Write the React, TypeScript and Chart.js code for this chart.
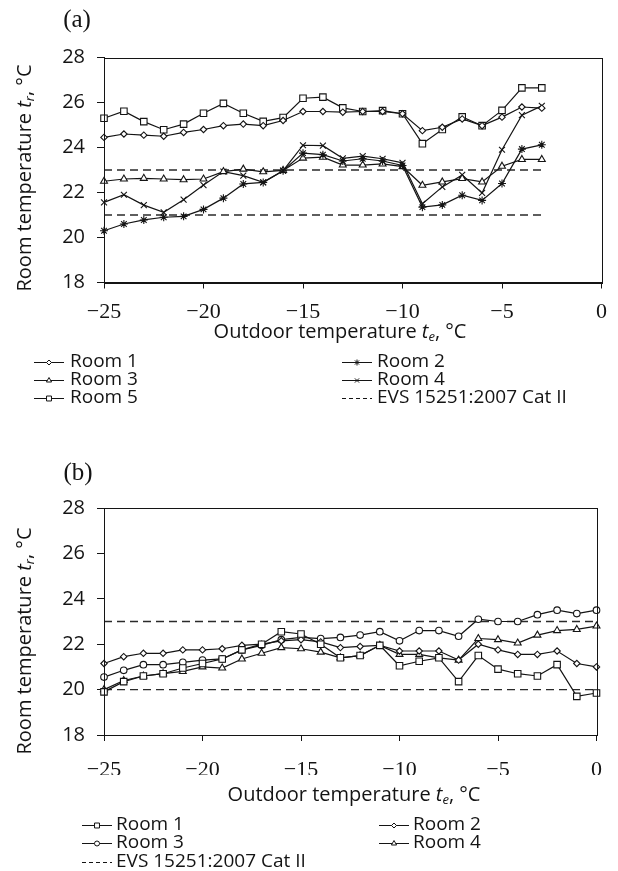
import React, { useEffect, useRef } from 'react';
import { Chart, registerables } from 'chart.js';
import { drawPoint } from 'chart.js/helpers';

Chart.register(...registerables);

// ---------- DATA ----------
const xA = [-25, -24, -23, -22, -21, -20, -19, -18, -17, -16, -15, -14, -13, -12, -11, -10, -9, -8, -7, -6, -5, -4, -3];
const aRoom1 = [24.45, 24.6, 24.55, 24.5, 24.67, 24.8, 24.97, 25.04, 24.97, 25.2, 25.6, 25.6, 25.57, 25.6, 25.6, 25.5, 24.75, 24.9, 25.27, 24.97, 25.35, 25.8, 25.75];
const aRoom2 = [20.3, 20.6, 20.78, 20.9, 20.94, 21.25, 21.75, 22.38, 22.45, 22.97, 23.75, 23.68, 23.4, 23.5, 23.4, 23.2, 21.35, 21.45, 21.88, 21.65, 22.4, 23.93, 24.12];
const aRoom3 = [22.5, 22.6, 22.63, 22.6, 22.57, 22.6, 22.93, 23.04, 22.92, 22.98, 23.53, 23.57, 23.22, 23.22, 23.27, 23.15, 22.32, 22.47, 22.62, 22.47, 23.17, 23.47, 23.47];
const aRoom4 = [21.56, 21.9, 21.44, 21.12, 21.68, 22.33, 22.93, 22.75, 22.45, 22.97, 24.1, 24.08, 23.52, 23.62, 23.5, 23.32, 21.5, 22.25, 22.78, 21.98, 23.9, 25.44, 25.85];
const aRoom5 = [25.3, 25.61, 25.15, 24.79, 25.04, 25.52, 25.96, 25.52, 25.16, 25.33, 26.19, 26.24, 25.76, 25.6, 25.64, 25.5, 24.17, 24.8, 25.36, 24.97, 25.65, 26.65, 26.65];
const aLimits = [21, 23];

const xB = [-25, -24, -23, -22, -21, -20, -19, -18, -17, -16, -15, -14, -13, -12, -11, -10, -9, -8, -7, -6, -5, -4, -3, -2, -1, 0];
const bRoom1 = [19.9, 20.35, 20.6, 20.7, 20.95, 21.15, 21.35, 21.75, 22.0, 22.55, 22.45, 22.0, 21.4, 21.5, 21.95, 21.05, 21.25, 21.4, 20.35, 21.5, 20.9, 20.7, 20.6, 21.1, 19.7, 19.85];
const bRoom2 = [21.15, 21.45, 21.6, 21.6, 21.75, 21.75, 21.8, 21.95, 22.0, 22.15, 22.2, 22.1, 21.85, 21.9, 21.95, 21.7, 21.7, 21.7, 21.3, 22.0, 21.75, 21.55, 21.55, 21.7, 21.15, 21.0];
const bRoom3 = [20.55, 20.85, 21.1, 21.1, 21.2, 21.3, 21.35, 21.75, 21.95, 22.2, 22.3, 22.25, 22.3, 22.4, 22.55, 22.15, 22.6, 22.6, 22.35, 23.1, 23.0, 23.0, 23.3, 23.5, 23.35, 23.5];
const bRoom4 = [20.0, 20.4, 20.6, 20.7, 20.8, 21.0, 20.95, 21.35, 21.6, 21.85, 21.8, 21.65, 21.4, 21.5, 21.95, 21.55, 21.55, 21.4, 21.3, 22.25, 22.2, 22.05, 22.4, 22.6, 22.65, 22.8];
const bLimits = [20, 23];

const yTickValues = [18, 20, 22, 24, 26, 28];
const xTickValues = [-25, -20, -15, -10, -5, 0];
const refLabel = 'EVS 15251:2007 Cat II';

// ---------- HELPERS ----------
const INK = '#141414';
const SANS = '"Open Sans", "DejaVu Sans", sans-serif';
const SERIF = '"Liberation Serif", "DejaVu Serif", serif';

type Style = { style: string; radius: number };

function roomDs(label: string, xs: number[], ys: number[], s: Style) {
  return {
    label,
    data: xs.map((x, i) => ({ x, y: ys[i] })),
    borderColor: INK,
    borderWidth: 1.2,
    pointStyle: s.style,
    pointRadius: s.radius,
    pointHoverRadius: s.radius,
    pointBorderColor: INK,
    pointBackgroundColor: '#fff',
    pointBorderWidth: 1.1,
    fill: false,
    tension: 0,
    clip: false,
  };
}

function limitDs(xs: number[], y: number) {
  return {
    label: refLabel,
    data: [{ x: xs[0], y }, { x: xs[xs.length - 1], y }],
    borderColor: '#2a2a2a',
    borderWidth: 1.4,
    borderDash: [8, 5],
    pointRadius: 0,
    fill: false,
    clip: false,
  };
}

type Part = { text: string; font: string; dy?: number };

function drawRich(ctx: CanvasRenderingContext2D, parts: Part[], cx: number, cy: number) {
  let total = 0;
  for (const p of parts) {
    ctx.font = p.font;
    total += ctx.measureText(p.text).width;
  }
  let x = cx - total / 2;
  ctx.textAlign = 'left';
  ctx.textBaseline = 'middle';
  for (const p of parts) {
    ctx.font = p.font;
    ctx.fillText(p.text, x, cy + (p.dy || 0));
    x += ctx.measureText(p.text).width;
  }
}

type LegendItem = { text: string; style?: string; radius?: number; dashed?: boolean; lx: number; tx: number; y: number };

type Layout = {
  panel: string;
  panelX: number;
  panelY: number;
  yTitleX: number;
  yTitleY: number;
  xTitleX: number;
  xTitleY: number;
  legend: LegendItem[];
};

function decorPlugin(L: Layout) {
  return {
    id: 'decor',
    afterDraw(chart: any) {
      const ctx: CanvasRenderingContext2D = chart.ctx;
      const a = chart.chartArea;
      ctx.save();
      // box
      ctx.strokeStyle = INK;
      ctx.lineWidth = 1;
      ctx.strokeRect(Math.round(a.left) + 0.5, Math.round(a.top) + 0.5, Math.round(a.right - a.left), Math.round(a.bottom - a.top));
      ctx.fillStyle = INK;
      // panel label
      ctx.font = `25px ${SERIF}`;
      ctx.textAlign = 'center';
      ctx.textBaseline = 'middle';
      ctx.fillText(L.panel, L.panelX, L.panelY);
      // x title
      drawRich(ctx, [
        { text: 'Outdoor temperature ', font: `20px ${SANS}` },
        { text: 't', font: `italic 20px ${SANS}` },
        { text: 'e', font: `italic 13px ${SANS}`, dy: 5 },
        { text: ', \u00b0C', font: `20px ${SANS}` },
      ], L.xTitleX, L.xTitleY);
      // y title
      ctx.save();
      ctx.translate(L.yTitleX, L.yTitleY);
      ctx.rotate(-Math.PI / 2);
      drawRich(ctx, [
        { text: 'Room temperature ', font: `20px ${SANS}` },
        { text: 't', font: `italic 20px ${SANS}` },
        { text: 'r', font: `italic 13px ${SANS}`, dy: 5 },
        { text: ', \u00b0C', font: `20px ${SANS}` },
      ], 0, 0);
      ctx.restore();
      // legend
      for (const it of L.legend) {
        ctx.save();
        ctx.strokeStyle = INK;
        ctx.lineWidth = 1;
        if (it.dashed) ctx.setLineDash([4, 3]);
        ctx.beginPath();
        ctx.moveTo(it.lx, it.y + 0.5);
        ctx.lineTo(it.lx + 30, it.y + 0.5);
        ctx.stroke();
        ctx.restore();
        if (it.style) {
          ctx.save();
          ctx.strokeStyle = INK;
          ctx.fillStyle = '#fff';
          ctx.lineWidth = 1;
          drawPoint(ctx, { pointStyle: it.style, radius: it.radius || 3, rotation: 0, borderWidth: 1 } as any, it.lx + 15, it.y + 0.5);
          ctx.restore();
        }
        ctx.fillStyle = INK;
        ctx.font = `19px ${SANS}`;
        ctx.textAlign = 'left';
        ctx.textBaseline = 'middle';
        ctx.fillText(it.text, it.tx, it.y);
      }
      ctx.restore();
    },
  };
}

function makeConfig(datasets: any[], L: Layout, pad: { top: number; right: number; bottom: number }, xPad: number) {
  return {
    type: 'line',
    data: { datasets },
    options: {
      responsive: false,
      animation: false,
      events: [],
      layout: { padding: { left: 0, top: pad.top, right: pad.right, bottom: pad.bottom } },
      plugins: { legend: { display: false }, tooltip: { enabled: false }, title: { display: false } },
      scales: {
        x: {
          type: 'linear',
          min: xTickValues[0],
          max: xTickValues[xTickValues.length - 1],
          afterBuildTicks: (s: any) => { s.ticks = xTickValues.map((v) => ({ value: v })); },
          afterFit: (s: any) => { s.height = 40; },
          grid: { drawOnChartArea: false, drawTicks: true, tickLength: 6, color: INK, lineWidth: 1 },
          border: { display: true, color: INK, width: 1 },
          ticks: {
            padding: xPad,
            color: INK,
            maxRotation: 0,
            autoSkip: false,
            font: { family: SERIF, size: 22 },
            callback: (v: any) => (v < 0 ? '\u2212' + Math.abs(v) : String(v)),
          },
        },
        y: {
          type: 'linear',
          min: yTickValues[0],
          max: yTickValues[yTickValues.length - 1],
          afterBuildTicks: (s: any) => { s.ticks = yTickValues.map((v) => ({ value: v })); },
          afterFit: (s: any) => { s.width = 104; },
          grid: { drawOnChartArea: false, drawTicks: true, tickLength: 7, color: INK, lineWidth: 1 },
          border: { display: true, color: INK, width: 1 },
          ticks: { padding: 12, color: INK, font: { family: SANS, size: 20 } },
        },
      },
    },
    plugins: [decorPlugin(L)],
  };
}

function ChartCanvas({ config, top, height }: { config: () => any; top: number; height: number }) {
  const ref = useRef<HTMLCanvasElement | null>(null);
  useEffect(() => {
    if (!ref.current) return;
    const chart = new Chart(ref.current, config());
    return () => chart.destroy();
  }, []);
  return (
    <canvas
      ref={ref}
      width={618}
      height={height}
      style={{ position: 'absolute', left: 0, top, width: 618, height }}
    />
  );
}

const configA = () => {
  const ds = [
    roomDs('Room 1', xA, aRoom1, { style: 'rectRot', radius: 3.2 }),
    roomDs('Room 2', xA, aRoom2, { style: 'star', radius: 4 }),
    roomDs('Room 3', xA, aRoom3, { style: 'triangle', radius: 4 }),
    roomDs('Room 4', xA, aRoom4, { style: 'crossRot', radius: 4.2 }),
    roomDs('Room 5', xA, aRoom5, { style: 'rect', radius: 4.6 }),
    limitDs(xA, aLimits[1]),
    limitDs(xA, aLimits[0]),
  ];
  const L: Layout = {
    panel: '(a)', panelX: 77, panelY: 20,
    yTitleX: 25, yTitleY: 178,
    xTitleX: 340, xTitleY: 332,
    legend: [
      { text: 'Room 1', style: 'rectRot', radius: 2.5, lx: 34, tx: 70, y: 362 },
      { text: 'Room 2', style: 'star', radius: 3, lx: 342, tx: 377, y: 362 },
      { text: 'Room 3', style: 'triangle', radius: 3, lx: 34, tx: 70, y: 380 },
      { text: 'Room 4', style: 'crossRot', radius: 3, lx: 342, tx: 377, y: 380 },
      { text: 'Room 5', style: 'rect', radius: 3.5, lx: 34, tx: 70, y: 398 },
      { text: refLabel, dashed: true, lx: 342, tx: 377, y: 398 },
    ],
  };
  return makeConfig(ds, L, { top: 57.5, right: 13, bottom: 107.5 }, 11);
};

const configB = () => {
  const ds = [
    roomDs('Room 1', xB, bRoom1, { style: 'rect', radius: 4.6 }),
    roomDs('Room 2', xB, bRoom2, { style: 'rectRot', radius: 3.2 }),
    roomDs('Room 3', xB, bRoom3, { style: 'circle', radius: 3.3 }),
    roomDs('Room 4', xB, bRoom4, { style: 'triangle', radius: 4 }),
    limitDs(xB, bLimits[1]),
    limitDs(xB, bLimits[0]),
  ];
  const L: Layout = {
    panel: '(b)', panelX: 78, panelY: 43,
    yTitleX: 25, yTitleY: 211,
    xTitleX: 354, xTitleY: 365,
    legend: [
      { text: 'Room 1', style: 'rect', radius: 3.5, lx: 82, tx: 116, y: 395 },
      { text: 'Room 2', style: 'rectRot', radius: 2.5, lx: 379, tx: 413, y: 395 },
      { text: 'Room 3', style: 'circle', radius: 2.5, lx: 82, tx: 116, y: 413 },
      { text: 'Room 4', style: 'triangle', radius: 3, lx: 379, tx: 413, y: 413 },
      { text: refLabel, dashed: true, lx: 82, tx: 116, y: 432 },
    ],
  };
  return makeConfig(ds, L, { top: 78, right: 16, bottom: 96 }, 16);
};

export default function App() {
  return (
    <div style={{ position: 'absolute', left: 0, top: 0, width: 618, height: 871, background: '#fff', overflow: 'hidden' }}>
      <ChartCanvas config={configA} top={0} height={430} />
      <ChartCanvas config={configB} top={430} height={441} />
    </div>
  );
}
